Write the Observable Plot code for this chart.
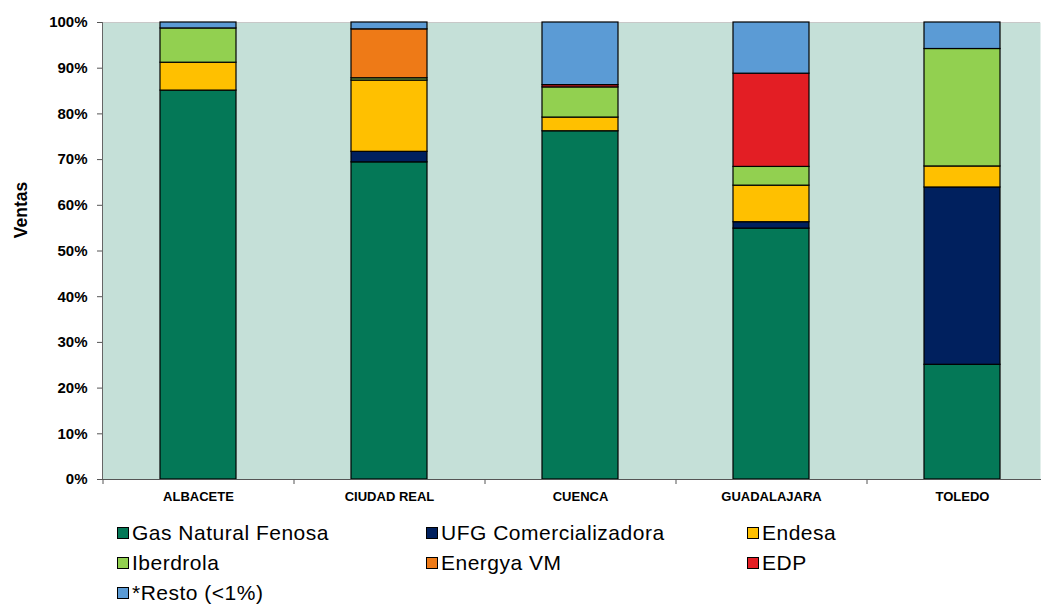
<!DOCTYPE html>
<html>
<head>
<meta charset="utf-8">
<script src="https://cdn.jsdelivr.net/npm/d3@7"></script>
<script src="https://cdn.jsdelivr.net/npm/@observablehq/plot@0.6"></script>
<style>
  html, body { margin: 0; background: #fff; font-family: "Liberation Sans", Arial, sans-serif; overflow: hidden; }
  #wrap { position: relative; width: 1049px; height: 608px; }
  #chart svg { max-width: none !important; }
  #legend { position: absolute; left: 0; top: 520px; width: 1049px; height: 88px; }
  .item { position: absolute; display: flex; align-items: center; font-size: 21px; letter-spacing: 0.5px; color: #000; white-space: nowrap; }
  .sw { width: 10px; height: 10px; border: 1px solid #000; margin-right: 3px; }
</style>
</head>
<body>
<div id="wrap"><div id="chart"></div><div id="legend"></div></div>
<script>
const cities = ["ALBACETE", "CIUDAD REAL", "CUENCA", "GUADALAJARA", "TOLEDO"];
const companies = ["Gas Natural Fenosa", "UFG Comercializadora", "Endesa", "Iberdrola", "Energya VM", "EDP", "*Resto (<1%)"];
const colors = ["#047857", "#00205E", "#FFC000", "#92D050", "#EE7A17", "#E31E24", "#5B9BD5"];
// values per company, in order of cities
const gasNatural = [85.1, 69.4, 76.2, 54.9, 25.1];
const ufg        = [0,    2.3,  0,    1.4,  38.8];
const endesa     = [6.1,  15.6, 3.0,  8.0,  4.6];
const iberdrola  = [7.5,  0.5,  6.6,  4.1,  25.7];
const energya    = [0,    10.7, 0,    0,    0];
const edp        = [0,    0,    0.5,  20.4, 0];
const resto      = [1.3,  1.5,  13.7, 11.2, 5.8];
const yTicks = [0, 10, 20, 30, 40, 50, 60, 70, 80, 90, 100];

const series = [gasNatural, ufg, endesa, iberdrola, energya, edp, resto];
const data = [];
cities.forEach((c, i) => {
  companies.forEach((co, j) => {
    if (series[j][i] > 0) data.push({city: c, company: co, value: series[j][i]});
  });
});

const W = 1049, mL = 102, mR = 9;
const step = 191;

const chart = Plot.plot({
  width: W,
  height: 510,
  marginLeft: mL,
  marginRight: mR,
  marginTop: 22,
  marginBottom: 31,
  style: {fontFamily: "'Liberation Sans', Arial, sans-serif", color: "#000", background: "#fff"},
  x: {domain: cities, range: [103, 103 + step * cities.length], paddingInner: 0.6, paddingOuter: 0.3, label: null},
  y: {domain: [0, 100], label: null},
  color: {domain: companies, range: colors},
  marks: [
    Plot.frame({fill: "#C5E0D8", stroke: null}),
    Plot.ruleY([100], {stroke: "#c8c8c8"}),
    Plot.barY(data, {x: "city", y: "value", fill: "company", stroke: "#000", strokeWidth: 1.2}),
    Plot.axisY({ticks: yTicks, tickFormat: d => d + "%", tickSize: 5, tickPadding: 10,
      fontSize: 15, fontWeight: "bold", letterSpacing: "1.3px", stroke: "#555", label: null}),
    Plot.text(["Ventas"], {frameAnchor: "left", textAnchor: "middle", dx: -81, dy: -41, rotate: -90, fontSize: 17.5, fontWeight: "bold", fill: "#000"}),
    Plot.frame({anchor: "left", stroke: "#666"}),
    Plot.frame({anchor: "bottom", stroke: "#555"}),
    Plot.axisX({tickSize: 5, dx: -step / 2, text: null, stroke: "#555"}),
    Plot.axisX({tickSize: 0, tickPadding: 12, fontSize: 13, letterSpacing: "1.2px", fontWeight: "bold", label: null})
  ]
});
document.getElementById("chart").appendChild(chart);

// legend
const legend = document.getElementById("legend");
const colX = [117, 426, 747];
const rowY = [1, 31, 61];
companies.forEach((co, j) => {
  const d = document.createElement("div");
  d.className = "item";
  d.style.left = colX[j % 3] + "px";
  d.style.top = rowY[Math.floor(j / 3)] + "px";
  d.innerHTML = `<span class="sw" style="background:${colors[j]}"></span><span></span>`;
  d.lastChild.textContent = co;
  legend.appendChild(d);
});
</script>
</body>
</html>
